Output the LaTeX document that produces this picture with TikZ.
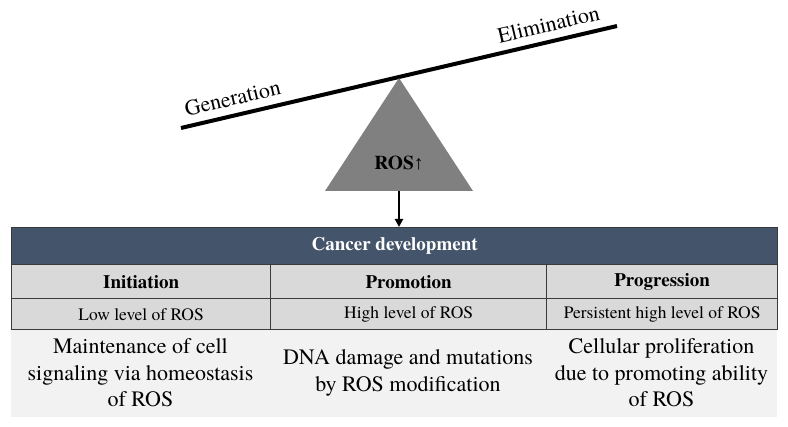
\documentclass[tikz,border=0pt]{standalone}
\usepackage{fontspec}
\setmainfont{TeX Gyre Termes}
\newfontfamily\arrowfont{Liberation Serif}
\usetikzlibrary{arrows.meta}
\definecolor{hdrblue}{HTML}{44546A}
\definecolor{rowgray}{HTML}{D9D9D9}
\definecolor{botgray}{HTML}{F2F2F2}
\definecolor{trigray}{HTML}{808080}
\definecolor{bordgray}{HTML}{3A3A3A}
\tikzset{
  cellbox/.style={draw=bordgray, line width=1.3pt, fill=rowgray, inner sep=0pt, anchor=north west},
  headtxt/.style={font=\fontsize{19}{22}\selectfont\bfseries},
  leveltxt/.style={font=\fontsize{17.5}{20}\selectfont},
  desctxt/.style={font=\fontsize{22}{26.5}\selectfont, align=center, inner sep=0pt},
  beamtxt/.style={font=\fontsize{22}{26}\selectfont, rotate=13.17, anchor=base, inner sep=0pt},
}
\begin{document}
\begin{tikzpicture}[x=1pt,y=-1pt]
\useasboundingbox (0,0) rectangle (788,427);
% seesaw beam
\coordinate (bl) at (181,128);
\coordinate (br) at (617,26);
\draw[line width=4pt] (bl) -- (br);
\node[beamtxt] (gen) at (234.2,105.3) {Generation};
\node[beamtxt] (elim) at (550.2,31.4) {Elimination};
% fulcrum
\fill[trigray] (399,78) -- (473,191) -- (325,191) -- cycle;
\coordinate (tribase) at (399,191);
\node[font=\fontsize{19.5}{22}\selectfont\bfseries, inner sep=0pt] (ros) at (399,163) {ROS{\arrowfont\mdseries↑}};
% table
\node[draw=bordgray, line width=1.3pt, fill=hdrblue, anchor=north west, minimum width=766pt, minimum height=37pt, inner sep=0pt,
      text=white, font=\fontsize{19}{22}\selectfont\bfseries] (hdr) at (11,227) {Cancer development};
\draw[line width=2pt, -{Triangle[length=8pt,width=8pt]}] (tribase) -- (tribase |- hdr.north);
\node[cellbox, minimum width=259pt, minimum height=34pt, headtxt] (c1) at (11,264) {Initiation};
\node[cellbox, minimum width=276pt, minimum height=34pt, headtxt] (c2) at (270,264) {Promotion};
\node[cellbox, minimum width=231pt, minimum height=34pt, headtxt] (c3) at (546,264) {Progression};
\node[cellbox, minimum width=259pt, minimum height=31pt, leveltxt] (l1) at (11,298) {Low level of ROS};
\node[cellbox, minimum width=276pt, minimum height=31pt, leveltxt] (l2) at (270,298) {High level of ROS};
\node[cellbox, minimum width=231pt, minimum height=31pt, leveltxt] (l3) at (546,298) {Persistent high level of ROS};
% bottom descriptions
\node[fill=botgray, anchor=north west, minimum width=766pt, minimum height=87pt, inner sep=0pt] (bot) at (11,330) {};
\node[desctxt] (d1) at (140.5,373) {Maintenance of cell\\signaling via homeostasis\\of ROS};
\node[desctxt] (d2) at (408,373) {DNA damage and mutations\\by ROS modification};
\node[desctxt] (d3) at (661.5,373) {Cellular proliferation\\due to promoting ability\\of ROS};
\end{tikzpicture}
\end{document}
